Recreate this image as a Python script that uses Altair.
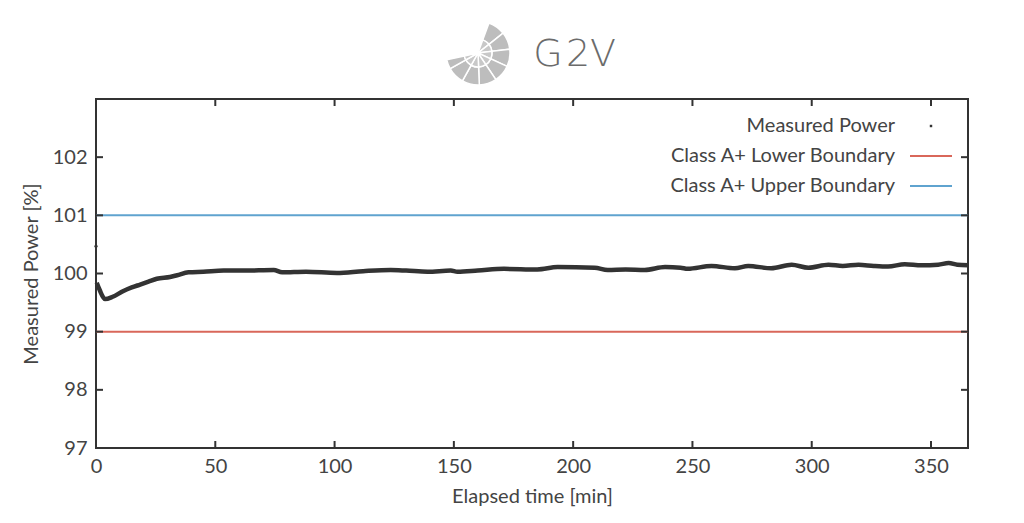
import altair as alt
import pandas as pd

# ---- data ----
time_min = [0.3, 1.5, 3.8, 7.0, 11.5, 15.0, 18.5, 22.0, 25.5, 31.0, 34.0, 38.8, 45.0, 53.5,
            62.0, 74.5, 78.0, 88.0, 101.0, 112.0, 123.5, 130.0, 139.0, 148.7, 151.5, 160.0,
            171.0, 185.0, 193.5, 209.0, 214.5, 222.0, 230.0, 238.5, 245.0, 248.0, 258.0,
            267.8, 273.4, 283.0, 291.6, 298.6, 307.0, 313.0, 319.6, 326.0, 332.0, 339.0,
            346.0, 353.0, 357.4, 361.0, 365.5]
power_pct = [99.84, 99.72, 99.56, 99.60, 99.70, 99.76, 99.81, 99.86, 99.91, 99.94, 99.97, 100.02,
             100.03, 100.05, 100.05, 100.06, 100.02, 100.03, 100.01, 100.04, 100.06, 100.05, 100.03,
             100.05, 100.03, 100.05, 100.08, 100.07, 100.11, 100.10, 100.06, 100.07, 100.06, 100.11,
             100.10, 100.08, 100.13, 100.09, 100.13, 100.09, 100.15, 100.10, 100.15, 100.13, 100.15,
             100.13, 100.12, 100.16, 100.14, 100.15, 100.18, 100.15, 100.14]
outlier_time = [0.0]
outlier_power = [100.47]

lower_boundary = 99.0
upper_boundary = 101.0
x_ticks = [0, 50, 100, 150, 200, 250, 300, 350]
y_ticks = [97, 98, 99, 100, 101, 102]
x_domain = [0, 365.5]
y_domain = [97, 103]

legend_labels = ["Measured Power", "Class A+ Lower Boundary", "Class A+ Upper Boundary"]
RED = "#d9675a"
BLUE = "#5fa3cf"
DARK = "#333333"
TEXT = "#444444"
FONT = "Lato"
FS = 20

W, H = 872, 349

series = pd.DataFrame({"t": time_min, "p": power_pct})
outl = pd.DataFrame({"t": outlier_time, "p": outlier_power})

xs = alt.Scale(domain=x_domain, nice=False, zero=False)
ys = alt.Scale(domain=y_domain, nice=False, zero=False)

x_axis = alt.Axis(values=x_ticks, tickSize=0, domain=False, grid=False, labelPadding=8,
                  labelFontSize=FS, labelColor=TEXT, labelFont=FONT, format="d",
                  title="Elapsed time [min]", titleFontSize=FS, titleFontWeight="normal",
                  titleColor=TEXT, titleFont=FONT, titlePadding=10, labelFlush=False)
y_axis = alt.Axis(values=y_ticks, tickSize=0, domain=False, grid=False, labelPadding=9,
                  labelFontSize=FS, labelColor=TEXT, labelFont=FONT, format="d",
                  title="Measured Power [%]", titleFontSize=FS, titleFontWeight="normal",
                  titleColor=TEXT, titleFont=FONT, titlePadding=11, labelFlush=False)

line = alt.Chart(series).mark_line(color=DARK, strokeWidth=4.5, interpolate="monotone").encode(
    x=alt.X("t:Q", scale=xs, axis=x_axis),
    y=alt.Y("p:Q", scale=ys, axis=y_axis),
)
pt = alt.Chart(outl).mark_point(filled=True, color=DARK, size=10, opacity=1).encode(
    x=alt.X("t:Q", scale=xs), y=alt.Y("p:Q", scale=ys))

bounds = pd.DataFrame({"v": [lower_boundary, upper_boundary], "c": [RED, BLUE]})
brules = alt.Chart(bounds).mark_rule(strokeWidth=2).encode(
    y=alt.Y("v:Q", scale=ys), color=alt.Color("c:N", scale=None))

# inward ticks (gnuplot style) on all four sides
xt = pd.DataFrame({"t": x_ticks})
yt = pd.DataFrame({"v": y_ticks + [103]})
tick_len_y = 7 / H * (y_domain[1] - y_domain[0])
tick_len_x = 7 / W * (x_domain[1] - x_domain[0])
xt["b0"], xt["b1"] = y_domain[0], y_domain[0] + tick_len_y
xt["t0"], xt["t1"] = y_domain[1], y_domain[1] - tick_len_y
yt["l0"], yt["l1"] = x_domain[0], x_domain[0] + tick_len_x
yt["r0"], yt["r1"] = x_domain[1], x_domain[1] - tick_len_x

tk = dict(color=DARK, strokeWidth=2)
xb = alt.Chart(xt).mark_rule(**tk).encode(x=alt.X("t:Q", scale=xs), y=alt.Y("b0:Q", scale=ys), y2="b1:Q")
xtp = alt.Chart(xt).mark_rule(**tk).encode(x=alt.X("t:Q", scale=xs), y=alt.Y("t0:Q", scale=ys), y2="t1:Q")
yl = alt.Chart(yt).mark_rule(**tk).encode(y=alt.Y("v:Q", scale=ys), x=alt.X("l0:Q", scale=xs), x2="l1:Q")
yr = alt.Chart(yt).mark_rule(**tk).encode(y=alt.Y("v:Q", scale=ys), x=alt.X("r0:Q", scale=xs), x2="r1:Q")

# legend (symbols to the right of the labels)
one = pd.DataFrame({"a": [0]})
leg_y = [27, 57, 87]
leg_text = [
    alt.Chart(one).mark_text(align="right", baseline="middle", fontSize=FS, font=FONT, color=TEXT,
                             text=lab).encode(x=alt.value(799), y=alt.value(yy))
    for lab, yy in zip(legend_labels, leg_y)
]
leg_dot = alt.Chart(one).mark_square(color=DARK, size=6, opacity=1, filled=True).encode(
    x=alt.value(835), y=alt.value(leg_y[0]))
leg_red = alt.Chart(one).mark_rule(color=RED, strokeWidth=2).encode(
    x=alt.value(814), x2=alt.value(856), y=alt.value(leg_y[1]))
leg_blue = alt.Chart(one).mark_rule(color=BLUE, strokeWidth=2).encode(
    x=alt.value(814), x2=alt.value(856), y=alt.value(leg_y[2]))

# logo: G2V with a stylised geodesic sphere
logo_arcs = pd.DataFrame({
    "s": [0.35, 0.9, 1.45, 2.0, 2.55, 3.1, 3.65, 4.2],
    "e": [0.9, 1.45, 2.0, 2.55, 3.1, 3.65, 4.2, 4.5],
})
logo_outer = alt.Chart(logo_arcs).mark_arc(radius=32, radius2=14, color="#bdbdbd",
                                           stroke="white", strokeWidth=1.5).encode(
    theta=alt.Theta("s:Q", scale=None), theta2="e:Q",
    x=alt.value(382), y=alt.value(-46))
logo_inner = alt.Chart(logo_arcs).mark_arc(radius=14, radius2=0, color="#c8c8c8",
                                           stroke="white", strokeWidth=1.5).encode(
    theta=alt.Theta("s:Q", scale=None), theta2="e:Q",
    x=alt.value(382), y=alt.value(-46))
logo_letters = [
    alt.Chart(one).mark_text(align="center", baseline="middle", fontSize=38, font="DejaVu Sans",
                             fontWeight=300, color="#6b6b6b", text=ch).encode(x=alt.value(xx), y=alt.value(-44))
    for ch, xx in zip(["G", "2", "V"], [452, 482, 507])
]

chart = alt.layer(
    brules, line, pt, xb, xtp, yl, yr, *leg_text, leg_dot, leg_red, leg_blue,
    logo_outer, logo_inner, *logo_letters
).properties(
    width=W, height=H,
    autosize=alt.AutoSizeParams(type="none"),
    padding={"left": 88, "top": 91, "right": 48, "bottom": 67},
    background="white",
).configure_view(stroke=DARK, strokeWidth=2)

chart.save("out.html", embed_options={"renderer": "svg", "actions": False})
